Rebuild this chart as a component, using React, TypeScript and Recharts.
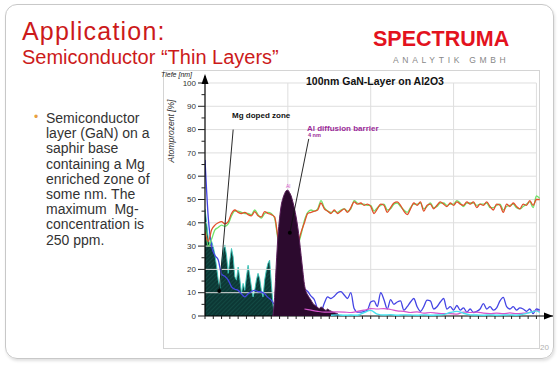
import React from 'react';
import { ComposedChart, Line, Area, XAxis, YAxis, ReferenceLine, ReferenceDot } from 'recharts';

// depth grid (arbitrary units along the depth axis)
const lineDepth = [0,1,2,3,4,5,6,7,8,9,10,11,12,13,14,15,16,17,18,19,20,21,22,23,24,25,26,27,28,29,30,31,32,33,34,35,36,37,38,39,40,41,42,43,44,45,46,47,48,49,50,51,52,53,54,55,56,57,58,59,60,61,62,63,64,65,66,67,68,69,70,71,72,73,74,75,76,77,78,79,80,81,82,83,84,85,86,87,88,89,90,91,92,93,94,95,96,97,98,99,100,101];

// red line
const gaValues = [36,32,37,39,40,40.5,39.5,40.5,44,45.5, 44.5,44,44.5,43.5,43,44.8,43,42.5,44.8,44, 43.5,42.5,34,28,25,25,26,28,31,36, 40,44,44.5,45,45.5,48.5,46,45,44,45.5, 44,45,46,44.5,46.5,49,48,48.5,47.5,48, 47,44,46,48,47.5,44.5,46.5,48.5,49,47.5, 45,43.5,46,48.5,47.5,49,45,47.5,48,46, 47.5,49,48,47,48.5,47.5,49,48,47.5,49, 48,49,46.5,48,47.5,49,47,45.5,48,47.5, 44.5,48,47,48.5,47,46,48,47.5,49.5,47.5, 50,50];

// green line
const nValues = [40,30,33,37,38,39,38.5,39.5,43,45, 45,44.5,44,44,43.5,45.5,43.5,42,44,44.5, 44,42,33,27,24,24,25,27,30,35, 41,44.5,45.5,45,46,49.5,46.5,45,44.5,45, 44.5,45.5,46,45,46,49.5,48.5,48,48,47.5, 47.5,45,46.5,47.5,48,45.5,46,48,48.5,47, 45.5,44.5,46.5,48,48,48.5,46,47,48.5,46.5, 47,48.5,48.5,47.5,48,48,49.5,48.5,47,48.5, 48.5,48.5,47.5,48,48,48.5,46.5,46.5,47.5,48, 45.5,47,47.5,48,46.5,46,47,48,49,46.5, 51.5,50.5];

// blue line
const oValues = [67,42,30,26,24,18,17,15.4,12.5,11.5, 11,9.5,8.2,9.5,10.5,11,10.5,10.3,9.5,8, 6.8,5, 10,12,13,13,12,12,11,11, 11.5,10.5,8.5,7,3,2,5.5,8.2,7.5,8.5, 10,10.5,9,7.5,10,3.2,1.7,1.7,2,2.5, 6,6.5,4,10,7,3,7,5,6,6.5, 2.5,4,6,7.5,4,2,4,6.8,6.5,3, 4,6,7.5,3,4,2.5,4.5,2.5,3.5,1.7, 3,1.5,2,3,5.3,3,4,2.5,3.5,6.5, 8,4,3,4,2.5,3.5,3,2,3,1, 3,2.5];

// Mg doped zone (teal area)
const mgDepth = [0,0.5,1,1.5,2,2.5,3,3.5,4,4.5,5,5.5,6,6.5,7,7.5,8,8.5,9,9.5,10,10.5,11,11.5,12,12.5,13,13.5,14,14.5,15,15.5,16,16.5,17,17.5,18,18.5,19,19.5,20,20.5,21];
const mgValues = [46,40,33,30.5,32,29.7,26.2,21,15.4,12,22.6,28.3,30.5,26,18.3,24,29,25.4,16.8,15.4,21,16,9.6,14,11,16.8,21.8,17.5,12.5,8.2,11,15.4,18.3,16,11,8.2,15.4,19.7,22.6,24,14,5,0];

// Al diffusion barrier (purple area)
const alDepth = [20.5,21,21.5,22,22.5,23,23.5,24,24.5,25,25.5,26,26.5,27,27.5,28,28.5,29,29.5,30,30.5,31,31.5,32,32.5,33,33.5,34,34.5,35,35.5,36,36.5,37,37.5,38,38.5,39,39.5,40,40.5];
const alValues = [0,8,22,34,42,47.5,50.5,52.5,53.8,54,53,51.5,49,46,42.5,38,32.5,26,19.5,13.5,10.5,9,7.8,6.8,5.5,4.8,4.2,3.6,3.2,3.9,3.4,2.8,2.4,3,2.5,2.1,1.8,1.5,1.2,1,0];

// magenta trace
const traceDepth = [30,32,34,36,38,40,42,44,46,48,50,52,54,56,58,60,62,64,66,68,70,72,74,76,78,80,82,84,86,88,90,92,94,96,98,100,101];
const traceValues = [3,2.5,2,1.7,1.7,1.8,1.7,1.5,2,2.5,3.2,3,3.2,2.8,2.2,2,1.5,1.8,1.2,1.5,1.2,1,1,0.8,1.7,1.5,1.7,1.2,1,1.2,1,1.3,1,1.2,1.5,2.4,2];

// cyan trace
const baseDepth = [38,40,42,44,46,48,50,52,54,56,58,60,62,64,66,68,70,72,74,76,78,80,82,84,86,88,90,92,94,96,98,100,101];
const baseValues = [0.3,0.5,0.3,0.4,0.3,1.5,2.4,0.8,0.4,0.6,0.3,0.5,0.4,0.3,0.5,0.3,0.4,0.6,1.5,2,1.2,0.5,0.4,0.3,0.5,0.3,0.4,0.5,0.3,0.8,1.5,2.2,1.5];

const yTicks = [0,5,10,15,20,25,30,35,40,45,50,55,60,65,70,75,80,85,90,95,100];
const xTicks = [0,2.5,5,7.5,10,12.5,15,17.5,20,22.5,25,27.5,30,32.5,35,37.5,40,42.5,45,47.5,50,52.5,55,57.5,60,62.5,65,67.5,70,72.5,75,77.5,80,82.5,85,87.5,90,92.5,95,97.5,100];
const gridY = [10,20,30,40,50,60,70,80,90,100];
const gridX = [25,50,75,100];

const mgPointer = [{ x: 8.5, y: 80 }, { x: 4.3, y: 10.7 }];
const alPointer = [{ x: 31.3, y: 76 }, { x: 25.6, y: 35.7 }];

const bulletLines = ['Semiconductor', 'layer (GaN) on a', 'saphir base', 'containing a Mg', 'enriched zone of', 'some nm. The', 'maximum  Mg-', 'concentration is', '250 ppm.'];

const zip = (xs: number[], ys: number[]) => xs.map((x, i) => ({ x, y: ys[i] }));

const FONT = '"Liberation Sans", Arial, sans-serif';
const X_DOMAIN: [number, number] = [0, 105];
const Y_DOMAIN: [number, number] = [0, 103];

const YTick = (props: any) => {
  const { x, y, payload } = props;
  const v = payload.value;
  const major = v % 10 === 0;
  return (
    <g>
      <line x1={x - (major ? 7 : 3.5)} x2={x} y1={y} y2={y} stroke="#222" strokeWidth={1} />
      {major && (
        <text x={x - 9} y={y} dy="0.35em" textAnchor="end" fontSize={8} fill="#333" fontFamily={FONT}>
          {v}
        </text>
      )}
    </g>
  );
};

const EmptyTick = () => <g />;

const abs = (s: React.CSSProperties): React.CSSProperties => ({ position: 'absolute', whiteSpace: 'pre', lineHeight: 1, fontFamily: FONT, ...s });

export default function App() {
  return (
    <div style={{ position: 'absolute', left: 0, top: 0, width: 559, height: 366, background: '#fff', overflow: 'hidden', fontFamily: FONT }}>
      <div style={{ position: 'absolute', left: 5, top: 4, width: 547, height: 353, border: '1px solid #c8c8c8', borderRadius: 12, boxShadow: '1px 2px 3px rgba(0,0,0,0.12)' }} />
      <div style={abs({ left: 22, top: 19, fontSize: 25, color: '#cc1a1a', letterSpacing: 1.2 })}>Application:</div>
      <div style={abs({ left: 22, top: 47, fontSize: 20, color: '#cc1a1a' })}>Semiconductor “Thin Layers”</div>
      <div style={abs({ left: 373, top: 29, fontSize: 21.5, fontWeight: 'bold', color: '#e3121e' })}>SPECTRUMA</div>
      <div style={abs({ left: 393, top: 56, fontSize: 8.5, color: '#888', letterSpacing: 3.7 })}>ANALYTIK GMBH</div>

      <div style={abs({ left: 34, top: 111, fontSize: 12, color: '#e8a040' })}>•</div>
      <div style={{ position: 'absolute', left: 46, top: 111, fontSize: 14, lineHeight: '15.2px', color: '#333', whiteSpace: 'pre', fontFamily: FONT }}>
        {bulletLines.map((l, i) => (
          <div key={i}>{l}</div>
        ))}
      </div>

      <div style={{ position: 'absolute', left: 163, top: 70, width: 375, height: 277, border: '1px solid #d4d4d4', background: '#fff' }} />

      {/* base layer: axes, grid, Mg zone, main lines */}
      <div style={{ position: 'absolute', left: 155, top: 65 }}>
        <ComposedChart width={404} height={290} margin={{ top: 11, right: 6, left: 10, bottom: 34 }}>
          <defs>
            <pattern id="mgHatch" width="3" height="3" patternUnits="userSpaceOnUse" patternTransform="rotate(45)">
              <rect width="3" height="3" fill="#0c3835" />
              <line x1="0" y1="0" x2="0" y2="3" stroke="#1a5c54" strokeWidth="0.9" />
            </pattern>
          </defs>
          <XAxis
            type="number"
            dataKey="x"
            domain={X_DOMAIN}
            ticks={xTicks}
            interval={0}
            tick={EmptyTick}
            tickSize={3}
            height={5}
            tickLine={{ stroke: '#222' }}
            axisLine={{ stroke: '#000', strokeWidth: 1.2 }}
            allowDataOverflow
          />
          <YAxis
            type="number"
            domain={Y_DOMAIN}
            ticks={yTicks}
            interval={0}
            width={40}
            tickLine={false}
            tickSize={0}
            tickMargin={0}
            tick={YTick}
            axisLine={{ stroke: '#000', strokeWidth: 1.2 }}
            allowDataOverflow
          />
          {gridY.map((v) => (
            <ReferenceLine key={'gy' + v} segment={[{ x: 0, y: v }, { x: 100, y: v }]} stroke="#dedede" strokeWidth={1} />
          ))}
          {gridX.map((v) => (
            <ReferenceLine key={'gx' + v} segment={[{ x: v, y: 0 }, { x: v, y: 100 }]} stroke="#dedede" strokeWidth={1} />
          ))}
          <Area data={zip(mgDepth, mgValues)} dataKey="y" type="linear" fill="url(#mgHatch)" fillOpacity={1} stroke="#3cc8bc" strokeWidth={0.9} isAnimationActive={false} />
          <Line data={zip(lineDepth, oValues)} dataKey="y" type="monotone" stroke="#4444e4" strokeWidth={1.3} dot={false} activeDot={false} isAnimationActive={false} />
          <Line data={zip(lineDepth, nValues)} dataKey="y" type="monotone" stroke="#6ee46a" strokeWidth={1.3} dot={false} activeDot={false} isAnimationActive={false} />
          <Line data={zip(lineDepth, gaValues)} dataKey="y" type="monotone" stroke="#e2502a" strokeWidth={1.3} dot={false} activeDot={false} isAnimationActive={false} />
        </ComposedChart>
      </div>

      {/* top layer: Al barrier drawn over the lines, traces and pointers */}
      <div style={{ position: 'absolute', left: 155, top: 65 }}>
        <ComposedChart width={404} height={290} margin={{ top: 11, right: 6, left: 50, bottom: 39 }}>
          <XAxis type="number" dataKey="x" domain={X_DOMAIN} hide allowDataOverflow />
          <YAxis type="number" domain={Y_DOMAIN} hide allowDataOverflow />
          <Area data={zip(alDepth, alValues)} dataKey="y" type="monotone" fill="#2c0a2e" fillOpacity={1} stroke="#5a1e5a" strokeWidth={1} isAnimationActive={false} />
          <Line data={zip(traceDepth, traceValues)} dataKey="y" type="monotone" stroke="#d455cc" strokeWidth={1.2} dot={false} activeDot={false} isAnimationActive={false} />
          <Line data={zip(baseDepth, baseValues)} dataKey="y" type="monotone" stroke="#48e2ee" strokeWidth={1.4} dot={false} activeDot={false} isAnimationActive={false} />
          <ReferenceLine segment={mgPointer} stroke="#111" strokeWidth={0.9} />
          <ReferenceDot x={mgPointer[1].x} y={mgPointer[1].y} r={2} fill="#000" stroke="none" />
          <ReferenceLine segment={alPointer} stroke="#111" strokeWidth={0.9} />
          <ReferenceDot x={alPointer[1].x} y={alPointer[1].y} r={2} fill="#000" stroke="none" />
        </ComposedChart>
      </div>

      {/* axis arrowheads */}
      <svg width={559} height={366} style={{ position: 'absolute', left: 0, top: 0, pointerEvents: 'none' }}>
        <polygon points="544,312.5 553,316 544,319.5" fill="#000" />
        <polygon points="201.5,84 205,74 208.5,84" fill="#000" />
      </svg>

      <div style={abs({ left: 275, top: 76, width: 200, textAlign: 'center', fontSize: 10.5, fontWeight: 'bold', color: '#111' })}>100nm GaN-Layer on Al2O3</div>
      <div style={abs({ left: 161, top: 71, fontSize: 7, fontStyle: 'italic', color: '#222' })}>Tiefe [nm]</div>
      <div style={abs({ left: 131, top: 126, width: 80, height: 10, textAlign: 'center', fontSize: 8.5, lineHeight: '10px', fontStyle: 'italic', color: '#333', transform: 'rotate(-90deg)' })}>Atomprozent [%]</div>
      <div style={abs({ left: 232, top: 112, fontSize: 8, fontWeight: 'bold', color: '#111' })}>Mg doped zone</div>
      <div style={abs({ left: 307, top: 125, fontSize: 8, fontWeight: 'bold', color: '#9a2a98' })}>Al diffusion barrier</div>
      <div style={abs({ left: 308, top: 133, fontSize: 5.5, fontWeight: 'bold', color: '#9a2a98' })}>4 nm</div>
      <div style={abs({ left: 286, top: 184, fontSize: 5, color: '#d455cc' })}>Al</div>
      <div style={abs({ left: 540, top: 344, fontSize: 8, color: '#b0b0b0' })}>20</div>
    </div>
  );
}
